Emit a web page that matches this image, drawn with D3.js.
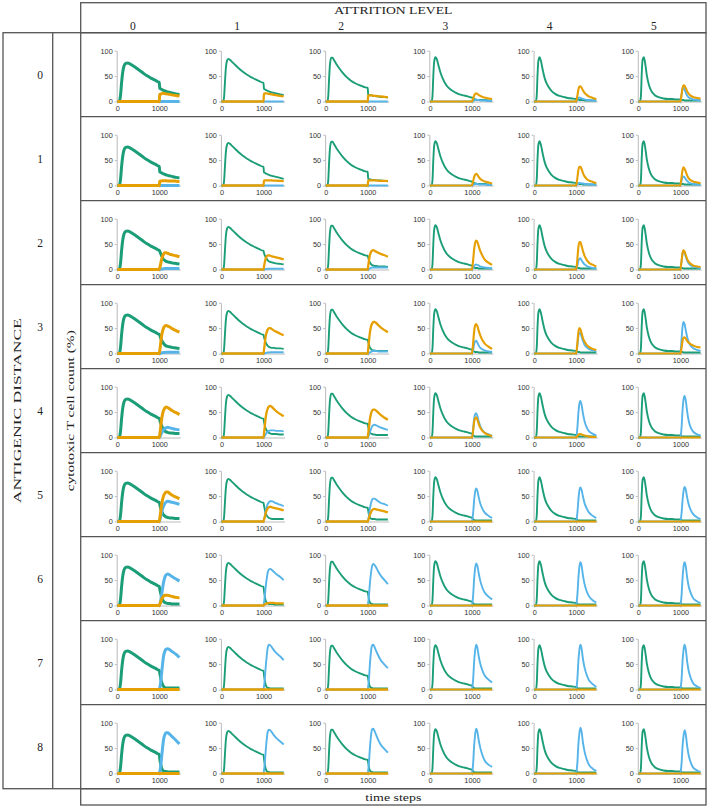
<!DOCTYPE html>
<html><head><meta charset="utf-8">
<script src="https://cdn.jsdelivr.net/npm/d3@7/dist/d3.min.js"></script>
<style>body{margin:0;background:#fff}</style>
</head><body>
<svg id="chart" width="708" height="807"></svg>
<script>
// ---------------- DATA ----------------
const attritionLevels = ["0","1","2","3","4","5"];
const antigenicDistances = ["0","1","2","3","4","5","6","7","8"];
const valueTicks = [0, 50, 100];
const timeTicks = [0, 1000];
const timeDomain = [0, 1500];

// primary (first infection) response, green, per attrition level
const primaryTimes = [0,40,60,80,100,130,160,200,250,300,400,500,600,700,800,900,995];
const primaryGreen = [
  [0,0,3,15,35,58,70,75,76,74,69,63,57,51,46,42,38],
  [0,0,8,35,62,80,84,82,78,74,66,59,53,48,44,40,37],
  [0,0,10,45,72,86,86,81,74,68,57,48,41,36,32,29,27],
  [0,0,10,50,78,87,84,72,57,46,31,23,18,14,12,10,8],
  [0,0,10,52,80,87,80,64,46,35,22,15,11,9,7,6,5],
  [0,0,10,55,82,87,76,52,33,22,12,8,6,5,5,4,4]
];

// second infection phase
const secondTimes = [1000,1010,1030,1050,1075,1100,1130,1160,1200,1250,1300,1400,1480];
const Z = [0,0,0,0,0,0,0,0,0,0,0,0,0];

const greenAfter = [
  [[38,26,25,24,23,22,21,20,19,18,17,15,14],[37,25,24,23,22,21,20,19,18,17,16,14,13],[27,14,13,13,12,12,11,11,10,10,9,9,8],[8,7,6,5,4,4,3,3,3,3,3,2,2],[5,5,4,4,3,3,3,3,2,2,2,2,2],[4,4,3,3,3,2,2,2,2,2,2,2,2]],
  [[38,27,26,25,24,23,22,21,20,19,18,16,15],[37,26,25,24,23,22,21,20,19,18,17,15,13],[27,13,13,12,12,11,11,11,10,10,10,9,9],[8,7,6,5,4,4,3,3,3,3,3,2,2],[5,5,4,4,3,3,3,2,2,2,2,2,2],[4,4,3,3,3,2,2,2,2,2,2,2,2]],
  [[38,36,32,28,24,20,18,16,15,14,13,12,11],[37,33,28,24,21,18,16,15,14,13,12,11,10],[27,24,18,14,11,9,8,7,7,6,6,6,5],[8,7,5,4,3,3,3,2,2,2,2,2,2],[5,5,4,3,3,2,2,2,2,2,2,2,2],[4,4,3,3,2,2,2,2,2,2,2,2,2]],
  [[38,36,31,27,23,20,17,15,14,13,12,11,10],[37,33,27,22,18,15,13,12,11,11,10,10,9],[27,24,17,12,9,7,6,6,5,5,5,5,5],[8,7,5,4,3,3,3,2,2,2,2,2,2],[5,5,4,3,3,2,2,2,2,2,2,2,2],[4,4,3,3,2,2,2,2,2,2,2,2,2]],
  [[38,35,29,24,20,16,13,11,10,9,9,8,8],[37,32,24,18,14,11,9,8,7,7,7,6,6],[27,22,14,10,8,7,6,6,5,5,5,5,5],[8,7,4,3,2,2,2,2,2,2,2,2,2],[5,5,3,2,2,2,2,2,2,2,2,2,2],[4,4,3,2,2,2,2,2,2,2,2,2,2]],
  [[38,34,27,21,17,13,11,9,8,7,7,6,6],[37,32,24,17,12,9,7,6,5,5,5,5,5],[27,22,13,8,6,5,5,5,4,4,4,4,4],[8,7,4,3,2,2,2,2,2,2,2,2,2],[5,5,3,2,2,2,2,2,2,2,2,2,2],[4,4,3,2,2,2,2,2,2,2,2,2,2]],
  [[38,33,25,18,12,8,6,5,4,4,3,3,3],[37,30,18,10,6,4,3,3,3,2,2,2,2],[27,22,12,6,4,3,2,2,2,2,2,2,2],[8,7,4,3,2,2,2,2,2,2,2,2,2],[5,5,3,2,2,2,2,2,2,2,2,2,2],[4,4,3,2,2,2,2,2,2,2,2,2,2]],
  [[38,33,24,16,10,6,4,3,3,3,3,3,3],[37,30,18,10,5,3,3,2,2,2,2,2,2],[27,22,12,6,4,3,2,2,2,2,2,2,2],[8,7,4,3,2,2,2,2,2,2,2,2,2],[5,5,3,2,2,2,2,2,2,2,2,2,2],[4,4,3,2,2,2,2,2,2,2,2,2,2]],
  [[38,30,20,12,7,5,4,4,3,3,3,3,3],[37,30,18,10,5,3,3,2,2,2,2,2,2],[27,22,12,6,4,3,2,2,2,2,2,2,2],[8,7,4,3,2,2,2,2,2,2,2,2,2],[5,5,3,2,2,2,2,2,2,2,2,2,2],[4,4,3,2,2,2,2,2,2,2,2,2,2]]
];

const orangeAfter = [
  [[0,14,15,15,16,16,15.5,15,14.5,14,13,12,11],[0,15,16,16,16,15.5,15,14.5,14,13,12.5,11,10],[0,12,12,12,12,12,11.5,11,11,10,10,9,8],[0,2,6,11,15,16,15,13,11,9,8,6,5],[0,3,12,22,29,30,27,22,17,13,10,7,5],[0,4,15,26,32,31,26,20,15,11,9,7,6]],
  [[0,8,9,9,9.5,9.5,9.5,9.5,9,9,9,8.5,8],[0,9,10,10,10,10,10,10,10,9.5,9.5,9,8.5],[0,9,10,10,10,10,10,10,10,9.5,9,9,8.5],[0,3,9,16,21,23,21,17,13,10,8,6,4],[0,4,16,29,37,37,32,25,18,13,10,7,5],[0,5,18,30,36,33,27,20,14,10,8,6,5]],
  [[0,3,10,18,25,30,33,33,32,30,29,27,25],[0,5,14,21,26,28,28,27,26,25,24,22,20],[0,6,18,28,34,37,38,37,35,33,31,28,25],[0,5,20,38,52,57,54,46,36,27,20,13,9],[0,5,22,42,54,54,46,37,27,19,14,9,6],[0,5,18,32,38,35,28,21,15,11,8,6,5]],
  [[0,5,18,32,43,50,54,55,54,52,49,45,42],[0,6,20,33,42,47,50,50,48,45,43,39,36],[0,8,25,40,52,58,62,62,60,56,52,46,42],[0,5,22,42,55,58,54,45,35,26,20,13,9],[0,5,22,40,50,48,40,31,23,17,13,9,7],[0,3,12,24,31,32,29,25,21,18,16,13,12]],
  [[0,5,18,33,45,53,58,60,59,56,53,49,45],[0,7,22,38,50,57,61,62,60,56,52,46,42],[0,7,20,35,46,52,55,55,53,49,45,39,35],[0,3,15,30,38,40,35,27,19,13,9,5,3],[0,1,3,5,7,7,6,5,4,3,2,1,1],Z],
  [[0,5,17,30,42,50,55,58,58,55,52,48,45],[0,3,9,16,22,26,28,29,28,27,26,24,22],[0,2,7,13,18,22,24,25,24,23,22,20,18],Z,Z,Z],
  [[0,2,6,11,15,18,20,20,20,19,18,16,15],[0,1,2,3,4,4,5,5,5,5,4,4,4],Z,Z,Z,Z],
  [Z,Z,Z,Z,Z,Z],
  [Z,Z,Z,Z,Z,Z]
];

const blueAfter = [
  [Z,Z,Z,[0,0,1,2,3,3,3,3,2,2,2,1,1],[0,1,4,7,8,7,6,5,4,3,3,2,2],[0,4,14,24,28,24,17,12,8,6,4,3,2]],
  [Z,Z,Z,[0,0,1,2,3,3,3,2,2,2,2,1,1],[0,1,3,4,5,5,4,4,3,3,2,2,2],[0,3,10,16,18,16,12,9,6,4,3,2,2]],
  [[0,0,0.5,1,1,1.5,2,2,2,2,2,2,2],[0,0,0.5,1,1,1.5,1.5,1.5,1.5,1.5,1.5,1.5,1.5],[0,0,1,2,3,4,4,4,4,4,4,4,4],[0,1,3,6,9,10,9,8,6,5,4,3,2],[0,2,8,16,21,22,18,14,10,7,5,3,2],[0,5,17,30,36,33,25,18,12,8,6,4,3]],
  [[0,0,0.5,1,1.5,2,2,2.5,2.5,2.5,2.5,2.5,2.5],[0,0,0.5,1,1.5,2,2,2.5,2.5,2.5,2.5,2.5,2.5],[0,0,1,2,3,4,5,5,5,4,4,4,4],[0,2,8,17,24,25,21,16,11,8,6,4,3],[0,4,16,32,41,40,33,25,17,12,9,6,4],[0,8,30,52,62,58,45,33,22,15,11,7,5]],
  [[0,1,4,8,12,15,18,19,20,19,18,16,15],[0,1,3,6,9,11,13,14,14,14,13,13,12],[0,1,5,10,16,21,24,25,24,22,20,17,15],[0,4,18,36,46,48,42,32,22,14,10,6,3],[0,4,20,45,66,72,64,48,32,20,13,7,4],[0,4,22,52,75,82,72,52,32,19,12,6,4]],
  [[0,2,8,16,24,30,35,38,40,39,38,36,34],[0,3,10,20,28,34,38,40,40,38,36,33,30],[0,3,12,25,35,42,45,45,43,40,37,34,31],[0,4,18,40,58,65,60,48,35,25,18,11,7],[0,4,18,40,60,67,62,50,36,26,18,11,7],[0,4,18,40,60,68,62,48,33,22,15,8,5]],
  [[0,2,8,18,32,45,55,60,62,60,57,52,48],[0,5,18,35,52,65,71,72,70,66,62,56,50],[0,5,20,42,62,76,82,80,75,67,60,50,42],[0,5,22,50,73,83,78,64,48,35,26,17,12],[0,5,22,50,75,85,78,60,42,28,19,10,6],[0,5,22,52,76,85,76,56,37,24,15,8,5]],
  [[0,3,12,28,48,65,75,79,80,78,75,69,63],[0,5,20,42,65,82,88,87,83,77,72,65,58],[0,5,22,48,72,86,88,84,76,67,59,49,42],[0,5,22,52,76,88,82,66,50,37,28,19,14],[0,5,22,52,77,88,80,61,43,29,19,10,5],[0,5,22,54,78,88,78,56,36,22,13,6,3]],
  [[0,3,12,28,48,66,76,80,80,77,73,65,58],[0,5,20,42,66,82,86,85,81,75,70,63,57],[0,5,22,48,72,86,88,84,76,66,58,48,41],[0,5,22,52,76,88,82,66,50,36,26,17,13],[0,5,22,54,78,90,82,62,43,28,18,9,5],[0,5,22,52,74,85,76,55,35,21,12,6,3]]
];

// ---------------- DRAWING ----------------
const colors = {green:"#1b9e77", orange:"#e69f00", blue:"#56b4e9"};
const serif = "'Liberation Serif','DejaVu Serif',serif";
const sans = "'Liberation Sans',Arial,sans-serif";
const frameColor = "#555";

const fr = {left:3, mid:52.7, gridLeft:80.7, right:706, headTop:2.7, gridTop:32.7, rowH:84, footBottom:805};
const colW = (fr.right - fr.gridLeft) / attritionLevels.length;
const gridBottom = fr.gridTop + fr.rowH * antigenicDistances.length;

const svg = d3.select("#chart");

// frames
const frames = svg.append("g").attr("fill","none").attr("stroke",frameColor).attr("stroke-width",1.3);
frames.append("rect").attr("x",fr.gridLeft).attr("y",fr.headTop).attr("width",fr.right-fr.gridLeft).attr("height",fr.gridTop-fr.headTop);
frames.append("rect").attr("x",fr.left).attr("y",fr.gridTop).attr("width",fr.right-fr.left).attr("height",gridBottom-fr.gridTop);
frames.append("line").attr("x1",fr.mid).attr("x2",fr.mid).attr("y1",fr.gridTop).attr("y2",gridBottom);
frames.append("line").attr("x1",fr.gridLeft).attr("x2",fr.gridLeft).attr("y1",fr.gridTop).attr("y2",gridBottom);
antigenicDistances.forEach((d,r)=>{ if(r>0) frames.append("line").attr("x1",fr.gridLeft).attr("x2",fr.right)
  .attr("y1",fr.gridTop+r*fr.rowH).attr("y2",fr.gridTop+r*fr.rowH); });
frames.append("rect").attr("x",fr.gridLeft).attr("y",gridBottom).attr("width",fr.right-fr.gridLeft).attr("height",fr.footBottom-gridBottom);

// header texts
const gridMid = (fr.gridLeft+fr.right)/2;
svg.append("text").attr("x",gridMid).attr("y",14).attr("text-anchor","middle")
  .attr("font-family",serif).attr("font-size",11).attr("fill","#222")
  .attr("textLength",118).attr("lengthAdjust","spacingAndGlyphs").text("ATTRITION LEVEL");
attritionLevels.forEach((a,c)=>{
  svg.append("text").attr("x",fr.gridLeft+(c+0.5)*colW).attr("y",30).attr("text-anchor","middle")
    .attr("font-family",serif).attr("font-size",11.5).attr("fill","#222").text(a);
});
antigenicDistances.forEach((d,r)=>{
  svg.append("text").attr("x",40).attr("y",fr.gridTop+(r+0.5)*fr.rowH+4).attr("text-anchor","middle")
    .attr("font-family",serif).attr("font-size",11.5).attr("fill","#222").text(d);
});
const midY = (fr.gridTop+gridBottom)/2;
svg.append("text").attr("transform",`translate(20.5,${midY}) rotate(-90)`).attr("text-anchor","middle")
  .attr("font-family",serif).attr("font-size",11).attr("fill","#222")
  .attr("textLength",185).attr("lengthAdjust","spacingAndGlyphs").text("ANTIGENIC DISTANCE");
svg.append("text").attr("transform",`translate(73.5,${midY}) rotate(-90)`).attr("text-anchor","middle")
  .attr("font-family",serif).attr("font-size",11).attr("fill","#222")
  .attr("textLength",161).attr("lengthAdjust","spacingAndGlyphs").text("cytotoxic T cell count (%)");
svg.append("text").attr("x",gridMid).attr("y",gridBottom+12).attr("text-anchor","middle")
  .attr("font-family",serif).attr("font-size",11).attr("fill","#222")
  .attr("textLength",56).attr("lengthAdjust","spacingAndGlyphs").text("time steps");

// scales (local to each panel)
const x = d3.scaleLinear().domain(timeDomain).range([36.6, 99.6]);
const y = d3.scaleLinear().domain([0,100]).range([68.8, 18]);
const line = d3.line().x(d=>x(d[0])).y(d=>y(d[1])).curve(d3.curveMonotoneX);
const intFmt = d3.format("d");

function widthFor(series, c){
  if(series==="green") return c===0 ? 3.0 : 1.9;
  if(series==="orange") return c===0 ? 3.0 : (c<=2 ? 2.3 : 2.1);
  return c===0 ? 3.0 : 1.9;
}

antigenicDistances.forEach((d,r)=>{
  attritionLevels.forEach((a,c)=>{
    const g = svg.append("g").attr("transform",`translate(${fr.gridLeft+c*colW},${fr.gridTop+r*fr.rowH})`);
    // axes
    const ya = g.append("g").attr("transform",`translate(${x(0)-0.6},0)`)
      .call(d3.axisLeft(y).tickValues(valueTicks).tickFormat(intFmt).tickSize(2).tickSizeOuter(0).tickPadding(2));
    const xa = g.append("g").attr("transform",`translate(0,${y(0)})`)
      .call(d3.axisBottom(x).tickValues(timeTicks).tickFormat(intFmt).tickSize(2).tickSizeOuter(0).tickPadding(2.5));
    [ya,xa].forEach(ax=>{
      ax.select(".domain").attr("stroke","#a8a8a8").attr("stroke-width",0.8);
      ax.selectAll(".tick line").attr("stroke","#a8a8a8").attr("stroke-width",0.8);
      ax.selectAll("text").attr("font-family",sans).attr("font-size",7.3).attr("fill","#333");
    });
    // series
    const green = primaryTimes.map((t,i)=>[t, primaryGreen[c][i]])
      .concat(secondTimes.map((t,i)=>[t, greenAfter[r][c][i]]));
    const orange = [[0,0]].concat(secondTimes.map((t,i)=>[t, orangeAfter[r][c][i]]));
    const blue = [[0,0]].concat(secondTimes.map((t,i)=>[t, blueAfter[r][c][i]]));
    [["green",green],["blue",blue],["orange",orange]].forEach(([name,pts])=>{
      g.append("path").attr("d",line(pts)).attr("fill","none")
        .attr("stroke",colors[name]).attr("stroke-width",widthFor(name,c))
        .attr("stroke-linejoin","round").attr("stroke-linecap","butt");
    });
  });
});
</script>
</body></html>
